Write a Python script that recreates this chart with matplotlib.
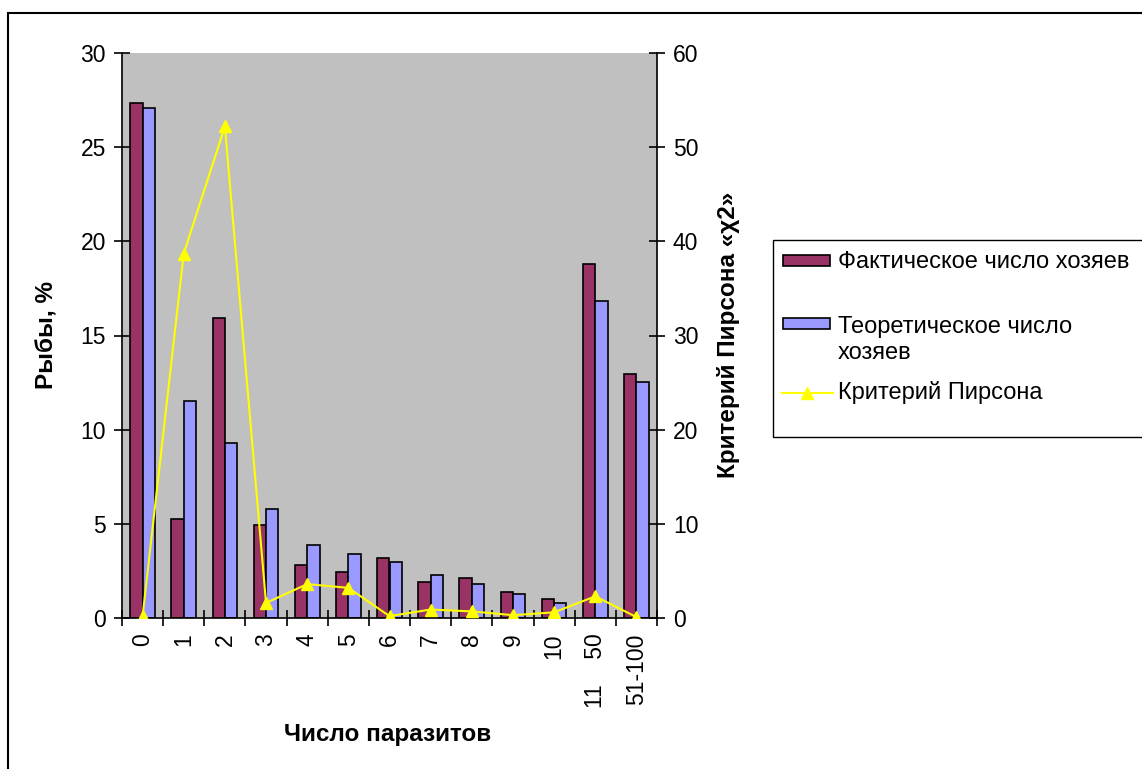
import matplotlib.pyplot as plt
import numpy as np
from matplotlib.patches import Rectangle
from matplotlib.lines import Line2D

plt.rcParams['font.family'] = ['Liberation Sans', 'DejaVu Sans']

# data
categories = ['0', '1', '2', '3', '4', '5', '6', '7', '8', '9', '10', '11    50', '51-100']
fact = [27.35, 5.25, 15.95, 4.95, 2.8, 2.45, 3.2, 1.9, 2.1, 1.4, 1.0, 18.8, 12.95]
theor = [27.1, 11.5, 9.3, 5.8, 3.9, 3.4, 3.0, 2.3, 1.8, 1.3, 0.8, 16.85, 12.55]
pearson = [0.2, 38.7, 52.2, 1.6, 3.6, 3.2, 0.2, 0.9, 0.7, 0.3, 0.6, 2.3, 0.1]
labels = ['Фактическое число хозяев', 'Теоретическое число\nхозяев', 'Критерий Пирсона']
c_fact, c_theor, c_line = '#993366', '#9999FF', '#FFFF00'

W, H = 1142, 769
FS = 16.5
LFS = 17


def fx(px):
    return px / W


def fy(py):
    return 1 - py / H


fig = plt.figure(figsize=(W / 100, H / 100), dpi=100)
ax = fig.add_axes([fx(122), fy(618), 535 / W, 565 / H])
ax.set_facecolor('#C0C0C0')

x = np.arange(len(categories))
bw = 0.3
ax.bar(x - bw / 2, fact, bw, color=c_fact, edgecolor='black', linewidth=1.2, zorder=2)
ax.bar(x + bw / 2, theor, bw, color=c_theor, edgecolor='black', linewidth=1.2, zorder=2)

ax.set_xlim(-0.5, len(categories) - 0.5)
ax.set_ylim(0, 30)
ax.set_yticks(range(0, 31, 5))
ax.set_xticks(x)
ax.set_xticklabels(categories, rotation=90, fontsize=FS)
ax.set_xticks(np.arange(len(categories) + 1) - 0.5, minor=True)
ax.tick_params(axis='x', which='major', length=0, pad=11)
ax.tick_params(axis='x', which='minor', direction='inout', length=11, width=1.2)
ax.tick_params(axis='y', direction='inout', length=11, width=1.2, labelsize=FS, pad=6)
for s in ['top', 'right']:
    ax.spines[s].set_visible(False)
for s in ['left', 'bottom']:
    ax.spines[s].set_linewidth(1.2)

ax2 = ax.twinx()
ax2.plot(x, pearson, color=c_line, linewidth=1.5, marker='^', markersize=9, zorder=3)
ax2.set_ylim(0, 60)
ax2.set_yticks(range(0, 61, 10))
ax2.tick_params(axis='y', direction='inout', length=11, width=1.2, labelsize=FS, pad=6)
for s in ['top', 'left', 'bottom']:
    ax2.spines[s].set_visible(False)
ax2.spines['right'].set_linewidth(1.2)

fig.text(fx(47), fy(335), 'Рыбы, %', rotation=90, ha='center', va='center',
         fontsize=17.5, fontweight='bold')
fig.text(fx(729), fy(335), 'Критерий Пирсона «χ2»', rotation=90, ha='center', va='center',
         fontsize=17.5, fontweight='bold')
fig.text(fx(388), fy(735), 'Число паразитов', ha='center', va='center',
         fontsize=17.5, fontweight='bold')

# legend box drawn by hand (Excel-like spacing, runs off the right edge)
fig.add_artist(Rectangle((fx(773), fy(437)), fx(400), (437 - 240) / H,
                         transform=fig.transFigure, facecolor='white',
                         edgecolor='black', linewidth=1.0))
for yc, col in [(261, c_fact), (323, c_theor)]:
    fig.add_artist(Rectangle((fx(783), fy(yc + 5.5)), 47 / W, 11 / H,
                             transform=fig.transFigure, facecolor=col,
                             edgecolor='black', linewidth=1.2))
fig.add_artist(Line2D([fx(782), fx(833)], [fy(393), fy(393)], transform=fig.transFigure,
                      color=c_line, linewidth=1.5))
fig.add_artist(Line2D([fx(807)], [fy(393)], transform=fig.transFigure,
                      color=c_line, marker='^', markersize=9, linestyle='none'))
fig.text(fx(838), fy(262), labels[0], ha='left', va='center', fontsize=LFS)
fig.text(fx(838), fy(340), labels[1], ha='left', va='center', fontsize=LFS, linespacing=1.22)
fig.text(fx(838), fy(392), labels[2], ha='left', va='center', fontsize=LFS)

# outer chart border
fig.add_artist(Rectangle((fx(8), -0.01), 1.05, fy(13) + 0.01,
                         transform=fig.transFigure, fill=False,
                         edgecolor='black', linewidth=1.5))

fig.savefig('out.png', dpi=100)
